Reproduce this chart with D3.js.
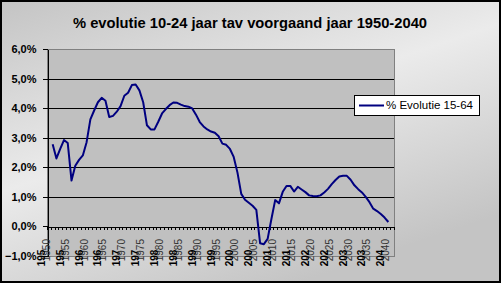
<!DOCTYPE html>
<html lang="en">
<head>
<meta charset="UTF-8">
<title>% evolutie 10-24 jaar</title>
<style>
  body { margin: 0; }
  text { font-family: "Liberation Sans", Arial, sans-serif; }
</style>
</head>
<body>
<svg width="501" height="283"></svg>
<script src="https://d3js.org/d3.v7.min.js"></script>
<script>
// chart data (percent vs previous year)
var firstYear = 1951;
var evolutie = [
  2.78, 2.30, 2.62, 2.92, 2.82, 1.55, 2.05, 2.25, 2.40, 2.85,   // 1951-1960
  3.62, 3.92, 4.20, 4.35, 4.25, 3.70, 3.74, 3.88, 4.07, 4.42,   // 1961-1970
  4.52, 4.78, 4.80, 4.60, 4.20, 3.42, 3.28, 3.28, 3.54, 3.82,   // 1971-1980
  3.97, 4.10, 4.19, 4.18, 4.12, 4.07, 4.05, 3.99, 3.78, 3.53,   // 1981-1990
  3.38, 3.28, 3.21, 3.17, 3.05, 2.80, 2.76, 2.62, 2.35, 1.82,   // 1991-2000
  1.10, 0.90, 0.80, 0.70, 0.56, -0.57, -0.60, -0.42, 0.25, 0.89, // 2001-2010
  0.78, 1.17, 1.37, 1.37, 1.18, 1.34, 1.25, 1.16, 1.05, 1.03,   // 2011-2020
  1.02, 1.05, 1.15, 1.27, 1.43, 1.57, 1.69, 1.71, 1.71, 1.58,   // 2021-2030
  1.39, 1.26, 1.15, 1.00, 0.82, 0.60, 0.52, 0.42, 0.30, 0.15    // 2031-2040
];
var axisYears = [1950, 2041];        // categories on the x axis
var labelYears = [1950, 1955, 1960, 1965, 1970, 1975, 1980, 1985, 1990,
                  1995, 2000, 2005, 2010, 2015, 2020, 2025, 2030, 2035, 2040];
var yTicks = [-1, 0, 1, 2, 3, 4, 5, 6];
var gridValues = [1, 2, 3, 4, 5];
var titleText = "% evolutie 10-24 jaar tav voorgaand jaar 1950-2040";
var seriesName = "% Evolutie 15-64";

var data = evolutie.map(function(v, i) { return { year: firstYear + i, value: v }; });

var svg = d3.select("svg"),
    W = +svg.attr("width"),
    H = +svg.attr("height");

var plot = { left: 47, top: 49, right: 394, bottom: 256 };

// background
var defs = svg.append("defs");
var grad = defs.append("linearGradient")
    .attr("id", "bg")
    .attr("x1", "0").attr("y1", "0").attr("x2", "0.6").attr("y2", "1");
grad.append("stop").attr("offset", "0").attr("stop-color", "#c4c4c4");
grad.append("stop").attr("offset", "0.5").attr("stop-color", "#ebebeb");
grad.append("stop").attr("offset", "1").attr("stop-color", "#c4c4c4");

svg.append("rect")
    .attr("x", 1).attr("y", 1)
    .attr("width", W - 2).attr("height", H - 2)
    .attr("fill", "url(#bg)")
    .attr("stroke", "#000")
    .attr("stroke-width", 2);

svg.append("text")
    .attr("x", 250).attr("y", 28)
    .attr("text-anchor", "middle")
    .attr("textLength", 354)
    .attr("lengthAdjust", "spacingAndGlyphs")
    .style("font-size", "14px")
    .style("font-weight", "bold")
    .text(titleText);

var x = d3.scaleLinear()
    .domain([axisYears[0] - 0.5, axisYears[1] + 0.5])
    .range([plot.left, plot.right]);

var y = d3.scaleLinear()
    .domain([d3.min(yTicks), d3.max(yTicks)])
    .range([plot.bottom, plot.top]);

// plot area
svg.append("rect")
    .attr("x", plot.left).attr("y", plot.top)
    .attr("width", plot.right - plot.left)
    .attr("height", plot.bottom - plot.top)
    .attr("fill", "#c0c0c0")
    .attr("stroke", "#808080")
    .attr("stroke-width", 1)
    .attr("shape-rendering", "crispEdges");

svg.append("g")
    .selectAll("line")
    .data(gridValues)
    .enter().append("line")
    .attr("x1", plot.left).attr("x2", plot.right)
    .attr("y1", d => Math.round(y(d)) + 0.5)
    .attr("y2", d => Math.round(y(d)) + 0.5)
    .attr("stroke", "#000")
    .attr("shape-rendering", "crispEdges");

// y axis
var nl = d3.formatLocale({ decimal: ",", thousands: ".", grouping: [3], currency: ["€", ""] });
var yAxis = d3.axisLeft(y)
    .tickValues(yTicks)
    .tickSize(5)
    .tickSizeOuter(0)
    .tickPadding(6)
    .tickFormat(d => nl.format(".1f")(d) + "%");

var gy = svg.append("g")
    .attr("transform", "translate(" + (plot.left + 0.5) + ",0)")
    .call(yAxis);
gy.selectAll("line, path").attr("stroke", "#000").attr("shape-rendering", "crispEdges");
gy.selectAll("text")
    .style("font-size", "11px")
    .style("font-weight", "bold")
    .attr("fill", "#000");

// x axis at 0%
var boundaries = d3.range(axisYears[0] - 0.5, axisYears[1] + 1, 1);
var xAxis = d3.axisBottom(x)
    .tickValues(boundaries)
    .tickSize(3)
    .tickSizeOuter(0)
    .tickFormat("");
var gx = svg.append("g")
    .attr("transform", "translate(0," + (Math.round(y(0)) + 0.5) + ")")
    .call(xAxis);
gx.selectAll("line, path").attr("stroke", "#000").attr("shape-rendering", "crispEdges");

// x labels: thin copy above, bold copy clipped below
defs.append("clipPath").attr("id", "lowclip")
  .append("rect").attr("x", 0).attr("y", 250).attr("width", W).attr("height", 18);

var labels = svg.append("g");
labels.selectAll("text.thin")
    .data(labelYears)
    .enter().append("text")
    .attr("class", "thin")
    .attr("transform", d => "translate(" + (x(d) + 1) + ",239) rotate(-90)")
    .attr("text-anchor", "end")
    .style("font-size", "10px")
    .attr("fill", "#333")
    .text(d => d);

labels.append("g").attr("clip-path", "url(#lowclip)")
    .selectAll("text")
    .data(labelYears)
    .enter().append("text")
    .attr("transform", d => "translate(" + (x(d) - 4) + ",244) rotate(-90)")
    .attr("text-anchor", "end")
    .style("font-size", "10px")
    .style("font-weight", "bold")
    .attr("fill", "#000")
    .text(d => d);

// series line
var line = d3.line()
    .x(d => x(d.year))
    .y(d => y(d.value));

svg.append("path")
    .datum(data)
    .attr("fill", "none")
    .attr("stroke", "#000080")
    .attr("stroke-width", 2)
    .attr("stroke-linejoin", "round")
    .attr("d", line);

// legend
var lg = svg.append("g").attr("transform", "translate(354,95)");
lg.append("rect")
    .attr("x", 0.5).attr("y", 0.5)
    .attr("width", 125).attr("height", 20)
    .attr("fill", "#fff")
    .attr("stroke", "#000");
lg.append("line")
    .attr("x1", 5).attr("x2", 30)
    .attr("y1", 10.5).attr("y2", 10.5)
    .attr("stroke", "#000080")
    .attr("stroke-width", 2);
lg.append("text")
    .attr("x", 32).attr("y", 14)
    .style("font-size", "11.5px")
    .text(seriesName);
</script>
</body>
</html>
